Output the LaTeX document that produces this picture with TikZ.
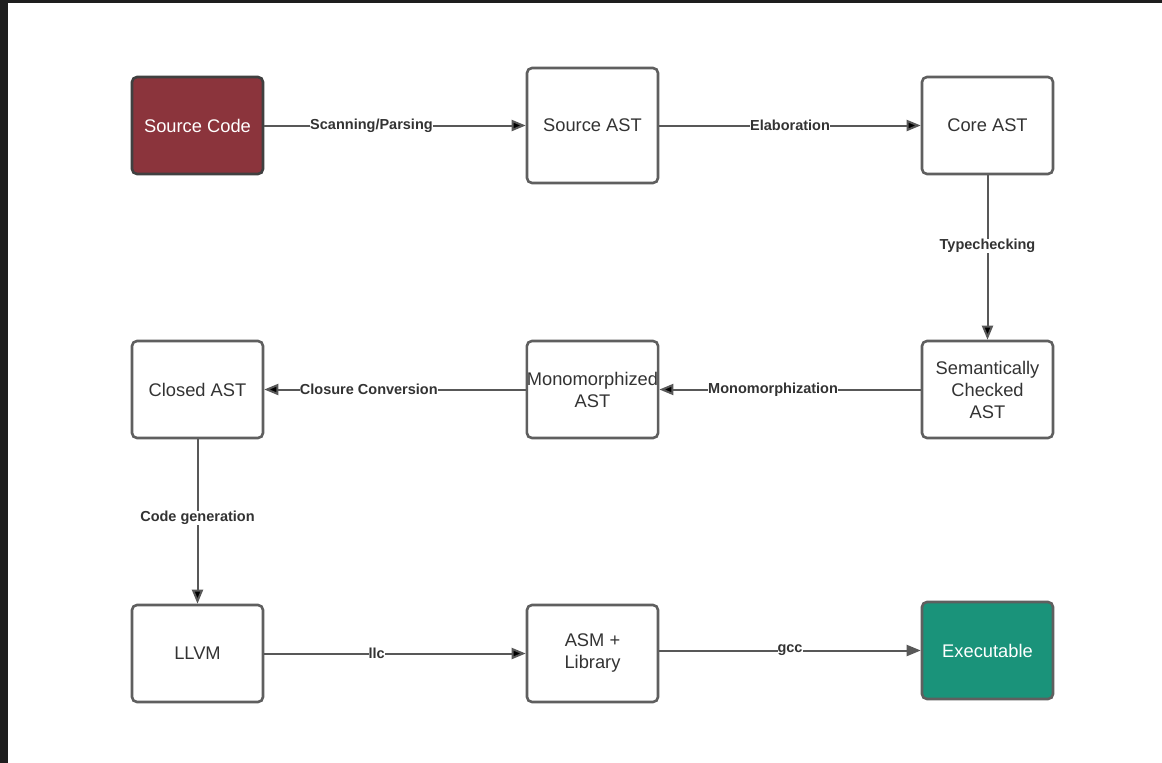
\documentclass[tikz,border=0pt]{standalone}
\usepackage{fontspec}
\setmainfont{Liberation Sans}
\usetikzlibrary{arrows.meta}
\definecolor{srcred}{RGB}{139,52,60}
\definecolor{exegreen}{RGB}{26,147,122}
\definecolor{boxgray}{RGB}{95,95,95}
\definecolor{linegray}{RGB}{88,88,88}
\definecolor{txtgray}{RGB}{51,51,51}
\definecolor{framedark}{RGB}{30,30,30}
\begin{document}
\begin{tikzpicture}[x=1pt, y=-1pt,
  stage/.style={shape=rectangle, rounded corners=5pt, draw=boxgray, line width=2.6pt, fill=white,
    minimum width=131pt, minimum height=97pt, inner sep=0pt, align=center, text=txtgray,
    font=\fontsize{18.3}{22}\selectfont},
  flow/.style={-{Triangle[length=14pt,width=11pt]}, line width=2pt, draw=linegray},
  lbl/.style={fill=white, inner sep=0pt, text=txtgray, font=\fontsize{14.5}{17}\selectfont\bfseries}]
% screen frame
\fill[framedark] (0,0) rectangle (1162,763);
\fill[white] (8,3) rectangle (1162,763);
% stages
\node[stage, fill=srcred, draw=framedark!85, text=white] (src) at (197.5,125.5) {Source Code};
\node[stage, minimum height=115pt] (sast) at (592.5,125.5) {Source AST};
\node[stage] (core) at (987.5,125.5) {Core AST};
\node[stage] (sem) at (987.5,389.5) {Semantically\\Checked\\AST};
\node[stage] (mono) at (592.5,389.5) {Monomorphized\\AST};
\node[stage] (closed) at (197.5,389.5) {Closed AST};
\node[stage] (llvm) at (197.5,653.5) {LLVM};
\node[stage] (asm) at (592.5,653.5) {ASM +\\Library};
\node[stage, fill=exegreen, text=white] (exe) at (987.5,650.5) {Executable};
% passes
\path [flow] (src) edge node[lbl, pos=0.41] {Scanning/Parsing} (sast);
\path [flow] (sast) edge node[lbl] {Elaboration} (core);
\path [flow] (core) edge node[lbl, pos=0.43] {Typechecking} (sem);
\path [flow] (sem) edge node[lbl, pos=0.565] {Monomorphization} (mono);
\path [flow] (mono) edge node[lbl, pos=0.6] {Closure Conversion} (closed);
\path [flow] (closed) edge node[lbl, pos=0.48] {Code generation} (llvm);
\path [flow] (llvm) edge node[lbl, pos=0.43] {llc} (asm);
\draw [flow] (asm.east |- exe) -- node[lbl] {gcc} (exe);
\end{tikzpicture}
\end{document}
